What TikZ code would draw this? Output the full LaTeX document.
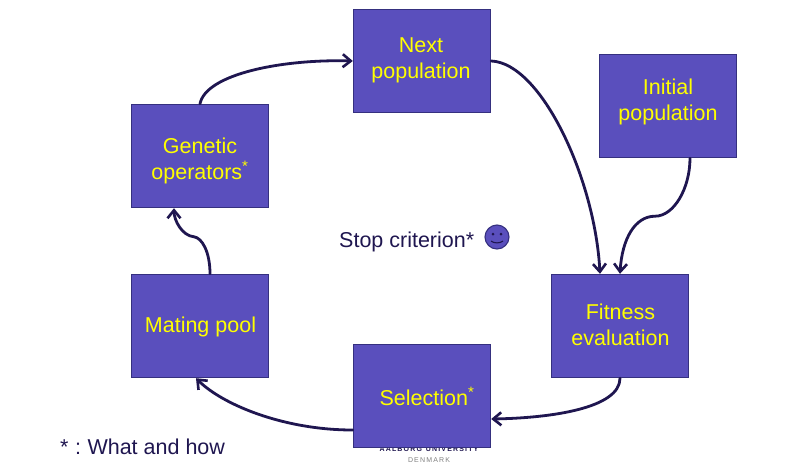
\documentclass[tikz,border=0pt]{standalone}
\usepackage{fontspec}
\setmainfont{Liberation Sans}
\usetikzlibrary{calc,arrows.meta}
\definecolor{boxfill}{HTML}{5A4FBD}
\definecolor{boxline}{HTML}{35307F}
\definecolor{ink}{HTML}{1F1650}
\definecolor{hl}{HTML}{FFFF00}
\tikzset{
  stepbox/.style={draw=boxline,line width=1.4pt,fill=boxfill,minimum width=137pt,minimum height=103pt,inner sep=0pt,text=hl,align=center,font=\fontsize{21.5}{26}\selectfont},
  conn/.style={draw=ink,line width=2.8pt,line cap=round,-{Straight Barb[length=8pt,width=13pt,line width=2.6pt]}},
  note/.style={text=ink,font=\fontsize{21.5}{25}\selectfont,inner sep=0pt,anchor=base west},
}
\newcommand{\upstar}{\textsuperscript{*}}
% text of a box, moved by (#1,#2) from the centre of the box
\newcommand{\boxtext}[3]{\hspace*{#1}\raisebox{#2}[0pt][0pt]{\begin{tabular}{@{}c@{}}#3\end{tabular}}}
\begin{document}
\begin{tikzpicture}[x=1pt,y=-1pt]
\useasboundingbox (0,0) rectangle (812,472);
\fill[white] (0,0) rectangle (812,472);
\node[text=ink,inner sep=0pt,font=\fontsize{7}{9}\selectfont\bfseries] (aau) at (429,449) {A\,A\,L\,B\,O\,R\,G\ \ U\,N\,I\,V\,E\,R\,S\,I\,T\,Y};
\node[text=black!50,inner sep=0pt,font=\fontsize{7}{9}\selectfont] (dk) at (429,460) {D\,E\,N\,M\,A\,R\,K};
\node[stepbox] (next) at (422,61) {\boxtext{-2pt}{-4pt}{Next\\population}};
\node[stepbox] (init) at (668,106) {\boxtext{0pt}{-1pt}{Initial\\population}};
\node[stepbox] (gen) at (200,156) {\boxtext{0pt}{-10pt}{Genetic\\operators\upstar}};
\node[stepbox] (mate) at (200,326) {\boxtext{1pt}{-6pt}{Mating pool}};
\node[stepbox] (sel) at (422,396) {\boxtext{10pt}{-9pt}{Selection\upstar}};
\node[stepbox] (fit) at (620,326) {\boxtext{1pt}{-6pt}{Fitness\\evaluation}};
\node[note] (stop) at (339,247) {Stop criterion*};
\node[note] (what) at (60,454) {*\hspace{6.5pt}:\hspace{6.5pt}What and how};
\node[circle,draw=boxline,line width=1.1pt,fill=boxfill,minimum size=24pt,inner sep=0pt] (face) at (497,237) {};
\fill[ink] ($(face)+(-4,-3)$) circle (1.5pt) ($(face)+(4,-3)$) circle (1.5pt);
\draw[ink,line width=1.1pt] ($(face)+(-6,4)$) .. controls ($(face)+(-3,6.5)$) and ($(face)+(3,6.5)$) .. ($(face)+(6,4)$);
\draw[conn] (gen.north) .. controls ($(gen.north)+(6,-30)$) and ($(next.west)+(-70,-2)$) .. (next.west);
\draw[conn] (next.east) .. controls ($(next.east)+(50,2)$) and ($(fit.north)+(-25,-95)$) .. ($(fit.north)+(-20,0)$);
\draw[conn] ($(init.south)+(22,0)$) .. controls ($(init.south)+(22,30)$) and ($(init.south)+(6,58)$) .. ($(init.south)+(-13,58)$) .. controls ($(init.south)+(-33,58)$) and ($(fit.north)+(2,-35)$) .. (fit.north);
\draw[conn] (fit.south) .. controls ($(fit.south)+(0,30)$) and ($(sel.east)+(60,22)$) .. ($(sel.east)+(0,23)$);
\draw[conn] ($(sel.west)+(0,34)$) .. controls ($(sel.west)+(-70,34)$) and ($(mate.south)+(22,26)$) .. ($(mate.south)+(-4,0)$);
\draw[conn] ($(mate.north)+(10,0)$) .. controls ($(mate.north)+(10,-22)$) and ($(mate.north)+(2,-36)$) .. ($(mate.north)+(-6,-37)$) .. controls ($(mate.north)+(-18,-38)$) and ($(gen.south)+(-26,12)$) .. ($(gen.south)+(-26,0)$);
\end{tikzpicture}
\end{document}
